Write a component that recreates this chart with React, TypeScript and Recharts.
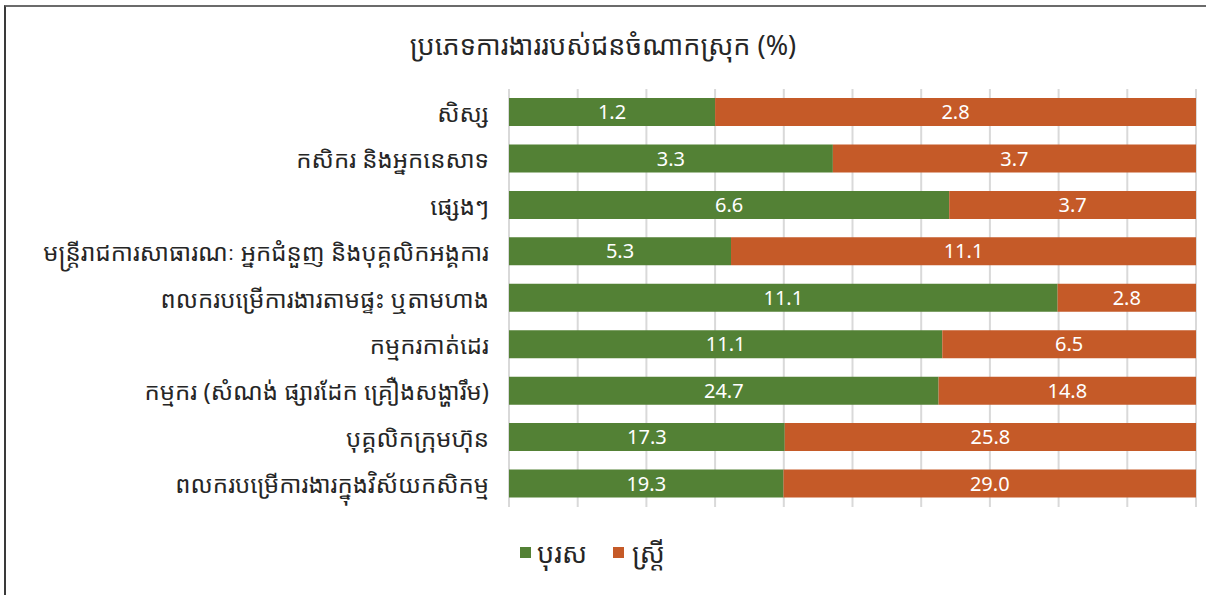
import { BarChart, Bar, XAxis, YAxis, CartesianGrid, LabelList } from 'recharts';

const categories = [
  'សិស្ស',
  'កសិករ និងអ្នកនេសាទ',
  'ផ្សេងៗ',
  'មន្ត្រីរាជការសាធារណៈ អ្នកជំនួញ និងបុគ្គលិកអង្គការ',
  'ពលករបម្រើការងារតាមផ្ទះ ឬតាមហាង',
  'កម្មករកាត់ដេរ',
  'កម្មករ (សំណង់ ផ្សារដែក គ្រឿងសង្ហារឹម)',
  'បុគ្គលិកក្រុមហ៊ុន',
  'ពលករបម្រើការងារក្នុងវិស័យកសិកម្ម',
];
const menValues = [1.2, 3.3, 6.6, 5.3, 11.1, 11.1, 24.7, 17.3, 19.3];
const womenValues = [2.8, 3.7, 3.7, 11.1, 2.8, 6.5, 14.8, 25.8, 29.0];
const seriesNames = ['បុរស', 'ស្ត្រី'];
const xTicks = [0, 0.1, 0.2, 0.3, 0.4, 0.5, 0.6, 0.7, 0.8, 0.9, 1];

const GREEN = '#538135';
const ORANGE = '#C55A28';
const KHMER = '"Noto Sans Khmer", "Khmer OS", "Noto Serif Khmer", "Noto Sans", sans-serif';
const NUM = '"Noto Sans", "Open Sans", sans-serif';

const data = categories.map((name, i) => ({
  name,
  men: menValues[i],
  women: womenValues[i],
}));

function CategoryTick(props: any) {
  const { x, y, payload } = props;
  return (
    <text
      x={x - 12}
      y={y}
      textAnchor="end"
      dominantBaseline="central"
      fontSize={24}
      fontFamily={KHMER}
      fill="#262626"
    >
      {payload.value}
    </text>
  );
}

export default function App() {
  return (
    <div style={{ position: 'absolute', left: 0, top: 0, width: 1206, height: 595, background: '#fff' }}>
      <div
        style={{
          position: 'absolute',
          left: 4,
          top: 5,
          width: 1202,
          height: 590,
          borderTop: '2px solid #6b6b6b',
          borderLeft: '2px solid #3a3a3a',
          boxSizing: 'border-box',
        }}
      />
      <div
        style={{
          position: 'absolute',
          left: 0,
          top: 26,
          width: 1206,
          textAlign: 'center',
          fontSize: 27,
          fontFamily: KHMER,
          color: '#262626',
        }}
      >
        ប្រភេទការងាររបស់ជនចំណាកស្រុក (%)
      </div>
      <div style={{ position: 'absolute', left: 0, top: 0 }}>
        <BarChart
          width={1206}
          height={595}
          data={data}
          layout="vertical"
          stackOffset="expand"
          barSize={28}
          margin={{ top: 89, right: 10, left: 0, bottom: 88 }}
        >
          <CartesianGrid horizontal={false} stroke="#d9d9d9" strokeWidth={2} />
          <XAxis type="number" domain={[0, 1]} ticks={xTicks} hide />
          <YAxis
            type="category"
            dataKey="name"
            width={509}
            tickLine={false}
            axisLine={false}
            tick={<CategoryTick />}
            interval={0}
          />
          <Bar dataKey="men" stackId="a" fill={GREEN} isAnimationActive={false}>
            <LabelList
              dataKey="men"
              position="center"
              fill="#ffffff"
              fontSize={20}
              fontFamily={NUM}
              formatter={(v: any) => Number(v).toFixed(1)}
            />
          </Bar>
          <Bar dataKey="women" stackId="a" fill={ORANGE} isAnimationActive={false}>
            <LabelList
              dataKey="women"
              position="center"
              fill="#ffffff"
              fontSize={20}
              fontFamily={NUM}
              formatter={(v: any) => Number(v).toFixed(1)}
            />
          </Bar>
        </BarChart>
      </div>
      {/* legend */}
      <div
        style={{
          position: 'absolute',
          left: 520,
          top: 534,
          display: 'flex',
          alignItems: 'center',
          fontFamily: KHMER,
          fontSize: 27,
          color: '#262626',
        }}
      >
        <span style={{ display: 'inline-block', width: 11, height: 11, background: GREEN, marginRight: 6 }} />
        <span style={{ marginRight: 26 }}>{seriesNames[0]}</span>
        <span style={{ display: 'inline-block', width: 11, height: 11, background: ORANGE, marginRight: 8 }} />
        <span>{seriesNames[1]}</span>
      </div>
    </div>
  );
}
